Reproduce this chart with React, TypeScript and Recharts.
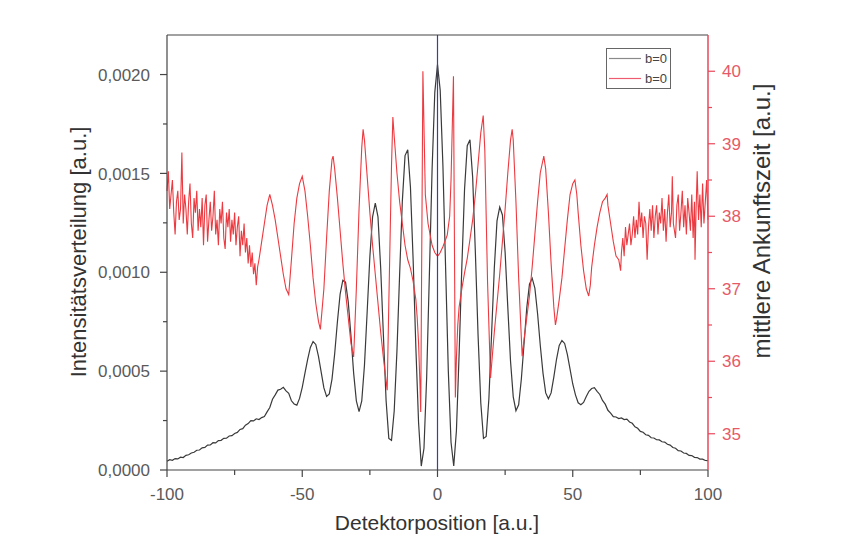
import type { ReactElement } from "react";
import { ComposedChart, Line, ReferenceLine, XAxis, YAxis } from "recharts";

// Intensity (black), values in units of 1e-4, [position, value]
const INTENSITY_E4: [number, number][] = [
  [-100, 0.44], [-99, 0.52], [-98, 0.49], [-97, 0.58], [-96, 0.56], [-95, 0.65], [-94, 0.63],
  [-93, 0.74], [-92, 0.77], [-91, 0.86], [-90, 0.9], [-89, 1.0], [-88, 1.01], [-87, 1.12],
  [-86, 1.14], [-85, 1.26], [-84, 1.27], [-83, 1.38], [-82, 1.37], [-81, 1.49], [-80, 1.5],
  [-79, 1.6], [-78, 1.61], [-77, 1.72], [-76, 1.74], [-75, 1.85], [-74, 1.9], [-73, 2.05],
  [-72, 2.09], [-71, 2.27], [-70, 2.35], [-69, 2.5], [-68, 2.48], [-67, 2.59], [-66, 2.55],
  [-65, 2.65], [-64, 2.7], [-63, 2.94], [-62, 3.16], [-61, 3.58], [-60, 3.8], [-59, 4.04],
  [-58, 4.08], [-57, 4.18], [-56, 4.0], [-55, 3.88], [-54, 3.5], [-53, 3.34], [-52, 3.28],
  [-51, 3.62], [-50, 4.18], [-49, 4.9], [-48, 5.6], [-47, 6.2], [-46, 6.5], [-45, 6.35],
  [-44, 5.75], [-43, 4.95], [-42, 4.15], [-41, 3.72], [-40, 3.85], [-39, 4.6], [-38, 5.9],
  [-37, 7.5], [-36, 8.9], [-35, 9.6], [-34, 9.5], [-33, 8.5], [-32, 6.8], [-31, 4.9],
  [-30, 3.5], [-29, 2.95], [-28, 3.5], [-27, 5.3], [-26, 8.0], [-25, 10.8], [-24, 12.8],
  [-23, 13.5], [-22, 12.8], [-21, 10.2], [-20, 6.8], [-19, 3.5], [-18, 1.6], [-17, 1.5],
  [-16, 3.0], [-15, 6.0], [-14, 9.9], [-13, 13.6], [-12, 15.9], [-11, 16.2], [-10, 14.3],
  [-9, 10.6], [-8, 6.2], [-7, 2.4], [-6, 0.2], [-5, 1.1], [-4, 4.7], [-3, 9.9], [-2, 15.2],
  [-1, 19.1], [0, 20.5], [1, 19.2], [2, 15.4], [3, 10.2], [4, 5.0], [5, 1.4], [6, 0.2],
  [7, 2.0], [8, 5.9], [9, 10.3], [10, 14.2], [11, 16.4], [12, 16.7], [13, 14.8], [14, 11.0],
  [15, 6.8], [16, 3.4], [17, 1.6], [18, 1.7], [19, 3.6], [20, 6.9], [21, 10.2], [22, 12.6],
  [23, 13.3], [24, 12.9], [25, 11.0], [26, 8.2], [27, 5.5], [28, 3.7], [29, 3.0], [30, 3.3],
  [31, 4.6], [32, 6.4], [33, 8.2], [34, 9.4], [35, 9.7], [36, 9.2], [37, 7.9], [38, 6.3],
  [39, 4.9], [40, 3.9], [41, 3.6], [42, 3.9], [43, 4.7], [44, 5.6], [45, 6.3], [46, 6.55],
  [47, 6.4], [48, 5.85], [49, 5.1], [50, 4.35], [51, 3.8], [52, 3.4], [53, 3.3], [54, 3.42],
  [55, 3.72], [56, 3.98], [57, 4.12], [58, 4.16], [59, 3.98], [60, 3.82], [61, 3.52],
  [62, 3.33], [63, 3.02], [64, 2.88], [65, 2.7], [66, 2.68], [67, 2.6], [68, 2.63], [69, 2.55],
  [70, 2.57], [71, 2.43], [72, 2.36], [73, 2.18], [74, 2.11], [75, 1.95], [76, 1.91],
  [77, 1.78], [78, 1.75], [79, 1.63], [80, 1.62], [81, 1.53], [82, 1.52], [83, 1.43],
  [84, 1.41], [85, 1.3], [86, 1.26], [87, 1.14], [88, 1.1], [89, 0.98], [90, 0.96], [91, 0.86],
  [92, 0.84], [93, 0.74], [94, 0.73], [95, 0.64], [96, 0.63], [97, 0.55], [98, 0.55],
  [99, 0.48], [100, 0.47],
];

// mean arrival time (red), [position, value]
const ARRIVAL: [number, number][] = [
  [-100, 38.35], [-99.5, 38.62], [-99, 38.1], [-98.5, 38.3], [-98, 38.5], [-97.5, 38.05],
  [-97, 37.75], [-96.5, 38.2], [-96, 38.35], [-95.5, 37.95], [-95, 38.1], [-94.5, 38.88],
  [-94, 37.9], [-93.5, 38.3], [-93, 38.1], [-92.5, 37.75], [-92, 38.2], [-91.5, 38.45],
  [-91, 37.9], [-90.5, 37.7], [-90, 38.25], [-89.5, 38.05], [-89, 38.35], [-88.5, 37.8],
  [-88, 38.1], [-87.5, 37.85], [-87, 38.25], [-86.5, 37.6], [-86, 38.15], [-85.5, 38.3],
  [-85, 37.65], [-84.5, 37.95], [-84, 38.2], [-83.5, 37.8], [-83, 38.0], [-82.5, 38.35],
  [-82, 37.75], [-81.5, 37.95], [-81, 37.6], [-80.5, 38.1], [-80, 37.9], [-79.5, 38.2],
  [-79, 37.7], [-78.5, 37.55], [-78, 38.05], [-77.5, 37.85], [-77, 38.1], [-76.5, 37.65],
  [-76, 37.95], [-75.5, 37.75], [-75, 38.05], [-74.5, 37.6], [-74, 37.85], [-73.5, 38.0],
  [-73, 37.45], [-72.5, 37.8], [-72, 37.6], [-71.5, 37.9], [-71, 37.5], [-70.5, 37.7],
  [-70, 37.35], [-69.5, 37.6], [-69, 37.3], [-68.5, 37.5], [-68, 37.2], [-67.5, 37.35],
  [-67, 37.05], [-66.5, 37.3], [-66, 37.4], [-65, 37.65], [-64, 37.9], [-63, 38.15],
  [-62, 38.3], [-61, 38.15], [-60, 37.95], [-59, 37.7], [-58, 37.45], [-57, 37.2], [-56, 37.0],
  [-55, 36.92], [-54, 37.4], [-53, 37.9], [-52, 38.25], [-51, 38.45], [-50, 38.55],
  [-49, 38.35], [-48, 38.0], [-47, 37.6], [-46, 37.15], [-45, 36.8], [-44, 36.55],
  [-43.3, 36.44], [-42, 37.0], [-41, 37.7], [-40, 38.35], [-39, 38.78], [-38.6, 38.83],
  [-38, 38.65], [-37, 38.25], [-36, 37.8], [-35, 37.35], [-34, 36.95], [-33, 36.6],
  [-32, 36.25], [-31, 36.06], [-30, 37.0], [-29, 38.1], [-28, 38.95], [-27.5, 39.2],
  [-27, 39.05], [-26, 38.55], [-25, 38.05], [-24, 37.6], [-23, 37.2], [-22, 36.8], [-21, 36.4],
  [-20, 36.05], [-19, 35.72], [-18.6, 35.6], [-18, 36.8], [-17, 38.7], [-16.5, 39.37],
  [-16, 39.1], [-15, 38.6], [-14, 38.2], [-13, 37.9], [-12, 37.6], [-11, 37.4], [-10, 37.28],
  [-9, 37.1], [-8, 36.85], [-7.5, 36.6], [-7, 36.25], [-6.5, 35.7], [-6.2, 35.3], [-5.4, 40.0],
  [-4.5, 38.3], [-3.5, 37.9], [-3, 37.8], [-2, 37.6], [-1, 37.5], [0, 37.45], [0.5, 37.47],
  [1, 37.5], [2, 37.58], [3, 37.68], [3.6, 37.74], [4.5, 38.0], [5, 38.5], [5.9, 39.93],
  [6.6, 35.5], [7, 36.05], [7.5, 36.5], [8, 36.75], [9, 37.0], [10, 37.22], [11, 37.42],
  [12, 37.68], [13, 37.95], [14, 38.3], [15, 38.72], [16, 39.15], [16.9, 39.39], [17.5, 38.9],
  [18.5, 37.1], [19.6, 35.77], [20, 35.95], [21, 36.4], [22, 36.8], [23, 37.2], [24, 37.65],
  [25, 38.1], [26, 38.6], [27, 39.05], [27.6, 39.2], [28, 39.05], [29, 38.2], [30, 37.15],
  [31.3, 36.07], [32, 36.3], [33, 36.6], [34, 36.9], [35, 37.3], [36, 37.75], [37, 38.2],
  [38, 38.6], [39.3, 38.83], [40, 38.65], [41, 38.05], [42, 37.35], [43, 36.75], [43.6, 36.5],
  [44, 36.58], [45, 36.85], [46, 37.15], [47, 37.55], [48, 37.95], [49, 38.3], [50, 38.45],
  [50.8, 38.5], [51.5, 38.3], [52, 38.05], [53, 37.6], [54, 37.25], [55, 37.0], [55.9, 36.9],
  [56.5, 37.05], [57, 37.3], [58, 37.6], [59, 37.85], [60, 38.05], [61, 38.2], [62, 38.25],
  [62.7, 38.3], [63, 38.15], [64, 37.9], [65, 37.65], [66, 37.45], [67, 37.4], [67.7, 37.25],
  [68, 37.5], [68.5, 37.7], [69, 37.45], [69.5, 37.85], [70, 37.6], [70.5, 37.75], [71, 37.9],
  [71.5, 37.6], [72, 37.75], [72.5, 38.0], [73, 37.7], [73.5, 37.95], [74, 37.75], [74.5, 38.2],
  [75, 37.85], [75.5, 38.05], [76, 37.7], [76.5, 38.0], [77, 37.9], [77.5, 37.4], [78, 37.85],
  [78.5, 38.1], [79, 37.8], [79.5, 38.15], [80, 37.7], [80.5, 38.0], [81, 38.15], [81.5, 37.75],
  [82, 38.05], [82.5, 37.9], [83, 38.25], [83.5, 37.8], [84, 38.1], [84.5, 37.65], [85, 38.05],
  [85.5, 38.3], [86, 37.85], [86.5, 38.05], [86.8, 38.55], [87.2, 37.9], [88, 37.7],
  [88.5, 38.15], [89, 38.3], [89.5, 37.8], [90, 38.05], [90.5, 38.35], [91, 37.85],
  [91.5, 38.15], [92, 37.75], [92.5, 38.25], [93, 38.05], [93.5, 37.8], [94, 38.3],
  [94.5, 37.7], [95, 38.2], [95.2, 37.4], [95.6, 38.1], [96, 38.62], [96.5, 37.95], [97, 38.3],
  [97.5, 37.85], [98, 38.45], [98.5, 37.9], [99, 38.2], [99.5, 38.5], [100, 37.95],
];

const X_TICKS = [-100, -75, -50, -25, 0, 25, 50, 75, 100];
const X_LABELED = [-100, -50, 0, 50, 100];
const LEFT_TICKS = [0, 0.00025, 0.0005, 0.00075, 0.001, 0.00125, 0.0015, 0.00175, 0.002];
const LEFT_LABELED = [0, 0.0005, 0.001, 0.0015, 0.002];
const RIGHT_TICKS = [35, 35.5, 36, 36.5, 37, 37.5, 38, 38.5, 39, 39.5, 40];
const RIGHT_LABELED = [35, 36, 37, 38, 39, 40];
const LEGEND_LABELS = ["b=0", "b=0"];

const intensityData = INTENSITY_E4.map(([x, v]) => ({ x, y: v / 10000 }));
const arrivalData = ARRIVAL.map(([x, v]) => ({ x, y: v }));

const FONT = '"Liberation Sans", Arial, Helvetica, sans-serif';
const AXIS = "#454545";
const TICK_TEXT = "#5a5a5a";
const RED = "#ec3a40";
const RED_AXIS = "#e9475a";
const RED_TEXT = "#e65a68";
const BLACK = "#3a3a3a";

const isIn = (list: number[], v: number) => list.some((m) => Math.abs(m - v) < 1e-9);

function BottomTick(props: any): ReactElement {
  const { x, y, payload } = props;
  const major = isIn(X_LABELED, payload.value);
  return (
    <g>
      <line x1={x} x2={x} y1={y} y2={y + (major ? 7 : 5)} stroke={AXIS} strokeWidth={1.2} />
      {major && (
        <text x={x} y={y + 30} textAnchor="middle" fontSize={17} fill={TICK_TEXT} fontFamily={FONT}>
          {payload.value}
        </text>
      )}
    </g>
  );
}

function TopTick(props: any): ReactElement {
  const { x, y, payload } = props;
  const major = isIn(X_LABELED, payload.value);
  return <line x1={x} x2={x} y1={y} y2={y + (major ? 7 : 5)} stroke={AXIS} strokeWidth={1.2} />;
}

function LeftTick(props: any): ReactElement {
  const { x, y, payload } = props;
  const major = isIn(LEFT_LABELED, payload.value);
  return (
    <g>
      <line x1={x - (major ? 7 : 4)} x2={x} y1={y} y2={y} stroke={AXIS} strokeWidth={1.2} />
      {major && (
        <text x={x - 17} y={y} dy="0.36em" textAnchor="end" fontSize={17} fill={TICK_TEXT} fontFamily={FONT}>
          {payload.value.toFixed(4).replace(".", ",")}
        </text>
      )}
    </g>
  );
}

function RightTick(props: any): ReactElement {
  const { x, y, payload } = props;
  const major = isIn(RIGHT_LABELED, payload.value);
  return (
    <g>
      <line x1={x} x2={x + (major ? 7 : 4)} y1={y} y2={y} stroke={RED_AXIS} strokeWidth={1.2} />
      {major && (
        <text x={x + 14} y={y} dy="0.36em" textAnchor="start" fontSize={17} fill={RED_TEXT} fontFamily={FONT}>
          {payload.value}
        </text>
      )}
    </g>
  );
}

export default function App(): ReactElement {
  return (
    <div style={{ position: "absolute", left: 0, top: 0, width: 850, height: 560, background: "#fff" }}>
      <ComposedChart width={850} height={560} margin={{ top: 34, right: 82, bottom: 50, left: 67 }}>
        <XAxis
          xAxisId="bottom"
          dataKey="x"
          type="number"
          domain={[-100, 100]}
          ticks={X_TICKS}
          interval={0}
          height={40}
          tickSize={0}
          tickMargin={0}
          axisLine={{ stroke: AXIS, strokeWidth: 1.2 }}
          tickLine={false}
          tick={(p: any) => <BottomTick {...p} />}
        />
        <XAxis
          xAxisId="top"
          orientation="top"
          dataKey="x"
          type="number"
          domain={[-100, 100]}
          ticks={X_TICKS}
          interval={0}
          height={1}
          tickSize={0}
          tickMargin={0}
          axisLine={{ stroke: AXIS, strokeWidth: 1.2 }}
          tickLine={false}
          tick={(p: any) => <TopTick {...p} />}
        />
        <YAxis
          yAxisId="left"
          type="number"
          domain={[0, 0.0022]}
          ticks={LEFT_TICKS}
          interval={0}
          width={100}
          tickSize={0}
          tickMargin={0}
          axisLine={{ stroke: AXIS, strokeWidth: 1.2 }}
          tickLine={false}
          tick={(p: any) => <LeftTick {...p} />}
        />
        <YAxis
          yAxisId="right"
          orientation="right"
          type="number"
          domain={[34.5, 40.5]}
          ticks={RIGHT_TICKS}
          interval={0}
          width={60}
          tickSize={0}
          tickMargin={0}
          axisLine={{ stroke: RED_AXIS, strokeWidth: 1.5 }}
          tickLine={false}
          tick={(p: any) => <RightTick {...p} />}
        />
        <Line
          data={intensityData}
          xAxisId="bottom"
          yAxisId="left"
          dataKey="y"
          type="linear"
          stroke={BLACK}
          strokeWidth={1.2}
          dot={false}
          isAnimationActive={false}
        />
        <Line
          data={arrivalData}
          xAxisId="bottom"
          yAxisId="right"
          dataKey="y"
          type="linear"
          stroke={RED}
          strokeWidth={1.1}
          dot={false}
          isAnimationActive={false}
        />
        <ReferenceLine xAxisId="bottom" yAxisId="left" x={0} stroke="#3d3d9c" strokeWidth={1.2} />
      </ComposedChart>

      <svg
        width={850}
        height={560}
        style={{ position: "absolute", left: 0, top: 0, pointerEvents: "none" }}
        fontFamily={FONT}
      >
        <text x={437} y={530} textAnchor="middle" fontSize={21} fill="#333">
          Detektorposition [a.u.]
        </text>
        <text transform="translate(78,252) rotate(-90)" textAnchor="middle" dy="0.36em" fontSize={22} fill="#333">
          Intensitätsverteilung [a.u.]
        </text>
        <text transform="translate(761,221) rotate(-90)" textAnchor="middle" dy="0.36em" fontSize={24} fill="#333">
          mittlere Ankunftszeit [a.u.]
        </text>

        <rect x={606.5} y={48.5} width={64} height={40} fill="#fff" stroke="#666" strokeWidth={1} />
        <line x1={609} x2={641} y1={58.5} y2={58.5} stroke="#8a8a8a" strokeWidth={1.2} />
        <line x1={609} x2={641} y1={78.5} y2={78.5} stroke="#ee5a70" strokeWidth={1.2} />
        <text x={645} y={63} fontSize={13} fill="#444">{LEGEND_LABELS[0]}</text>
        <text x={645} y={83} fontSize={13} fill="#444">{LEGEND_LABELS[1]}</text>
      </svg>
    </div>
  );
}
